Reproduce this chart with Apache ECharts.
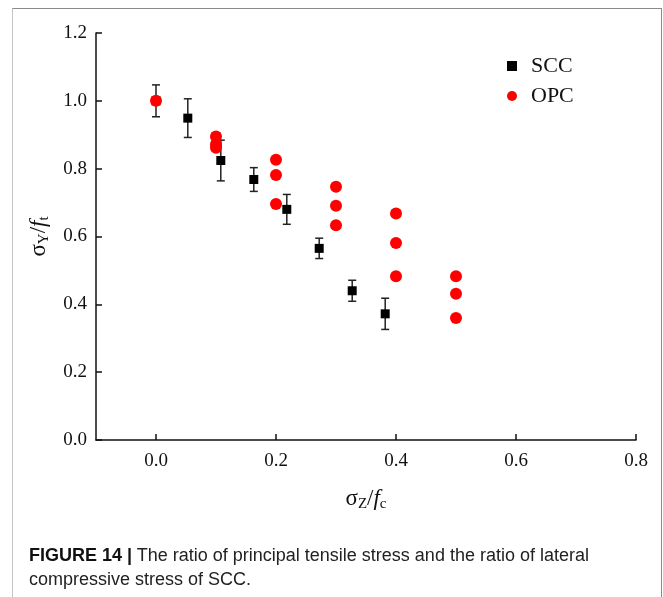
<!DOCTYPE html>
<html>
<head>
<meta charset="utf-8">
<script src="https://cdn.jsdelivr.net/npm/echarts@6/dist/echarts.min.js"></script>
<style>
    body{margin:0;background:#fff;}
    .wrap{position:relative;width:663px;height:597px;overflow:hidden;}
    .frame{position:absolute;left:12px;top:8px;width:648px;height:600px;border-top:1.5px solid #8a8a8a;border-right:1.5px solid #8a8a8a;border-left:1.5px solid #c4c4c4;}
    #chart{position:absolute;left:0;top:0;width:663px;height:597px;}
    .cap{position:absolute;left:29px;top:543px;font-family:"Liberation Sans Narrow","Liberation Sans",Arial,sans-serif;font-size:18px;line-height:24px;color:#222;white-space:nowrap;}
    .cap b{font-weight:bold;color:#111;}
</style>
</head>
<body>
<div class="wrap">
    <div class="frame"></div>
    <div id="chart"></div>
    <div class="cap"><b>FIGURE 14 |</b> The ratio of principal tensile stress and the ratio of lateral<br>compressive stress of SCC.</div>
</div>
<script>
// SCC：均值和误差
var sccX = [0, 0.053, 0.108, 0.163, 0.218, 0.272, 0.327, 0.382];
var sccY = [1.0, 0.949, 0.824, 0.768, 0.680, 0.565, 0.440, 0.372];
var sccErr = [0.047, 0.057, 0.060, 0.035, 0.044, 0.030, 0.031, 0.046];
// OPC
var opcX = [0, 0.1, 0.1, 0.1, 0.2, 0.2, 0.2, 0.3, 0.3, 0.3, 0.4, 0.4, 0.4, 0.5, 0.5, 0.5];
var opcY = [1.0, 0.895, 0.872, 0.862, 0.826, 0.781, 0.696, 0.747, 0.691, 0.633, 0.668, 0.581, 0.483, 0.483, 0.431, 0.360];
// 刻度
var xTicks = [0, 0.2, 0.4, 0.6, 0.8];

var serif = '"Liberation Serif","Times New Roman",serif';

var sccData = sccX.map(function(x, i){ return [x, sccY[i]]; });
var errData = sccX.map(function(x, i){ return [x, sccY[i] - sccErr[i], sccY[i] + sccErr[i]]; });
var opcData = opcX.map(function(x, i){ return [x, opcY[i]]; });

var nameRich = {
    a: {fontFamily: serif, fontSize: 23, color: '#111', lineHeight: 26},
    i: {fontFamily: serif, fontSize: 23, fontStyle: 'italic', color: '#111', lineHeight: 26},
    b: {fontFamily: serif, fontSize: 15, color: '#111', verticalAlign: 'bottom', lineHeight: 16}
};

var myChart = echarts.init(document.getElementById('chart'));
myChart.setOption({
    animation: false,
    grid: {left: 96, right: 27, top: 33, bottom: 157},
    legend: {
        data: ['SCC', 'OPC'],
        orient: 'vertical',
        left: 502,
        top: 50,
        itemWidth: 10,
        itemHeight: 10,
        itemGap: 8,
        textStyle: {fontFamily: serif, fontSize: 22, color: '#111', padding: [0, 0, 0, 9]}
    },
    xAxis: {
        type: 'value',
        min: -0.1,
        max: 0.8,
        splitLine: {show: false},
        axisLine: {onZero: false, lineStyle: {color: '#111', width: 1.5}},
        axisTick: {inside: true, length: 6, customValues: xTicks, lineStyle: {color: '#111', width: 1.5}},
        axisLabel: {
            customValues: xTicks,
            margin: 12,
            fontFamily: serif, fontSize: 19, color: '#111',
            formatter: function(v){ return v.toFixed(1); }
        },
        name: '{a|σ}{b|Z}{a|/}{i|f}{b|c}',
        nameLocation: 'middle',
        nameGap: 46,
        nameTextStyle: {rich: nameRich}
    },
    yAxis: {
        type: 'value',
        min: 0,
        max: 1.2,
        interval: 0.2,
        splitLine: {show: false},
        axisLine: {show: true, onZero: false, lineStyle: {color: '#111', width: 1.5}},
        axisTick: {show: true, inside: true, length: 6, lineStyle: {color: '#111', width: 1.5}},
        axisLabel: {
            margin: 9,
            fontFamily: serif, fontSize: 19, color: '#111',
            formatter: function(v){ return v.toFixed(1); }
        },
        name: '{a|σ}{b|Y}{a|/}{i|f}{b|t}',
        nameLocation: 'middle',
        nameGap: 44,
        nameTextStyle: {rich: nameRich}
    },
    series: [
        {
            // 误差棒
            type: 'custom',
            silent: true,
            data: errData,
            z: 1,
            renderItem: function(params, api){
                var x = api.value(0);
                var lo = api.coord([x, api.value(1)]);
                var hi = api.coord([x, api.value(2)]);
                var w = 4;
                var st = {stroke: '#222', lineWidth: 1.5};
                return {
                    type: 'group',
                    children: [
                        {type: 'line', shape: {x1: hi[0], y1: hi[1], x2: lo[0], y2: lo[1]}, style: st},
                        {type: 'line', shape: {x1: hi[0] - w, y1: hi[1], x2: hi[0] + w, y2: hi[1]}, style: st},
                        {type: 'line', shape: {x1: lo[0] - w, y1: lo[1], x2: lo[0] + w, y2: lo[1]}, style: st}
                    ]
                };
            }
        },
        {
            name: 'SCC',
            type: 'scatter',
            symbol: 'rect',
            symbolSize: 9,
            itemStyle: {color: '#000', opacity: 1},
            data: sccData,
            z: 2
        },
        {
            name: 'OPC',
            type: 'scatter',
            symbol: 'circle',
            symbolSize: 12,
            itemStyle: {color: '#ff0000', opacity: 1},
            data: opcData,
            z: 3
        }
    ]
});
</script>
</body>
</html>
